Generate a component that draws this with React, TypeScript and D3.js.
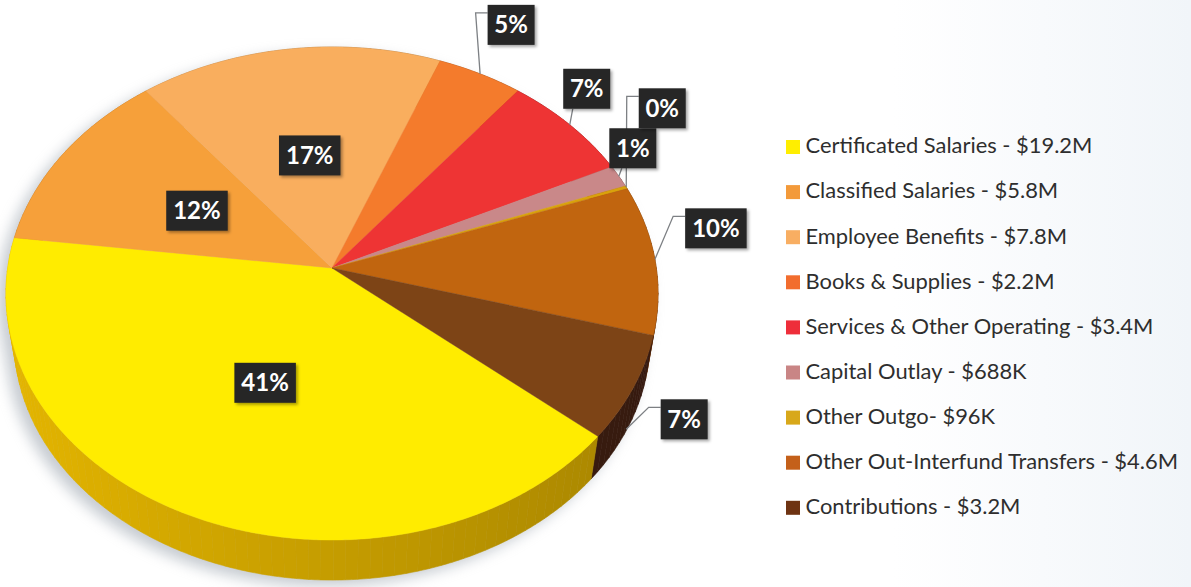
import React from "react";
import * as d3 from "d3";

// ---------- data ----------
const categories = [
  "Certificated Salaries",
  "Classified Salaries",
  "Employee Benefits",
  "Books & Supplies",
  "Services & Other Operating",
  "Capital Outlay",
  "Other Outgo",
  "Other Out-Interfund Transfers",
  "Contributions",
];
const amountsM = [19.2, 5.8, 7.8, 2.2, 3.4, 0.688, 0.096, 4.6, 3.2];
const amountLabels = ["$19.2M", "$5.8M", "$7.8M", "$2.2M", "$3.4M", "$688K", "$96K", "$4.6M", "$3.2M"];
const legendSeparators = [" - ", " - ", " - ", " - ", " - ", " - ", "- ", " - ", " - "];

// ---------- styles ----------
const topColors = ["#FFEC00", "#F6A03A", "#F9AE5E", "#F47B2C", "#EE3434", "#C98889", "#D9A20C", "#C1650F", "#7D4416"];
const sideColors = ["#E5B600", "#C47A22", "#C88C4A", "#C2601F", "#B82424", "#9C6868", "#A87C08", "#9A4E12", "#4A2414"];
const legendColors = ["#FFEE00", "#F39A3A", "#F8AE62", "#F26D2E", "#EE2E3A", "#C98585", "#D8A81A", "#C4601A", "#6E3312"];
// label layout: inside labels sit on the slice; others are offset from the rim anchor
const labelLayout: { inside?: boolean; dx?: number; dy?: number; wall?: boolean }[] = [
  { inside: true },
  { inside: true },
  { inside: true },
  { dx: 31, dy: -49 },
  { dx: 17, dy: -36 },
  { dx: 14, dy: -28 },
  { dx: 36, dy: -79 },
  { dx: 61, dy: -31 },
  { dx: 58, dy: -10, wall: true },
];

// ---------- geometry (projected 3D pie) ----------
const CX = 332;
const CY = 268;
const A = 324.3;
const B = 243.9;
const K = 0.1035;
const T = 0.025;
const YV = 2140;
const START = (130.1 * Math.PI) / 180;

function proj(theta: number, r: number, bottom = false): [number, number] {
  const X = r * Math.sin(theta);
  const Z = -r * Math.cos(theta);
  const w = 1 - K * Z;
  let x = CX + (A * X) / w;
  let y = CY + (B * Z) / w;
  if (bottom) {
    x += (CX - x) * T;
    y += (YV - y) * T;
  }
  return [x, y];
}

function arcPoints(a0: number, a1: number, bottom = false): [number, number][] {
  const n = Math.max(2, Math.ceil(((a1 - a0) * 180) / Math.PI / 0.5));
  const pts: [number, number][] = [];
  for (let i = 0; i <= n; i++) pts.push(proj(a0 + ((a1 - a0) * i) / n, 1, bottom));
  return pts;
}

const line = d3.line<[number, number]>();

export default function App() {
  const total = d3.sum(amountsM);
  const pctFmt = d3.format(".0%");
  const arcs = d3
    .pie<number>()
    .sort(null)
    .startAngle(START)
    .endAngle(START + 2 * Math.PI)(amountsM);

  // wall quads, painter-sorted back to front
  type Quad = { d: string; z: number; fill: string };
  const quads: Quad[] = [];
  const shadowQuads: string[] = [];
  arcs.forEach((a, i) => {
    const span = a.endAngle - a.startAngle;
    const n = Math.max(1, Math.ceil(((span * 180) / Math.PI) / 2));
    for (let j = 0; j < n; j++) {
      const t0 = a.startAngle + (span * j) / n;
      const t1 = a.startAngle + (span * (j + 1)) / n;
      const mid = (t0 + t1) / 2;
      const z = -Math.cos(mid);
      const top = arcPoints(t0, t1);
      const bot = arcPoints(t0, t1, true).reverse();
      const d = line([...top, ...bot])! + "Z";
      const m = 0.86 + 0.14 * -Math.sin(mid);
      const c = d3.rgb(sideColors[i]);
      const fill = d3.rgb(c.r * m, c.g * m, c.b * m).formatHex();
      quads.push({ d, z, fill });
      shadowQuads.push(d);
    }
  });
  quads.sort((p, q) => p.z - q.z);

  const topPaths = arcs.map((a) => {
    const pts = arcPoints(a.startAngle, a.endAngle);
    return line([[CX, CY], ...pts])! + "Z";
  });

  const fullTop = line(arcPoints(0, 2 * Math.PI))! + "Z";
  const fullBot = line(arcPoints(0, 2 * Math.PI, true))! + "Z";

  // labels
  const labels = arcs.map((a, i) => {
    const mid = (a.startAngle + a.endAngle) / 2;
    const txt = pctFmt(a.value / total);
    const w = 18 + 14.5 * txt.length;
    const h = 40;
    const L = labelLayout[i];
    if (L.inside) {
      const [x, y] = proj(mid, 0.49);
      return { txt, x, y, w, h, leader: null as string | null };
    }
    let anchor = proj(mid, 1);
    if (L.wall) {
      const b = proj(mid, 1, true);
      anchor = [anchor[0] + (b[0] - anchor[0]) * 0.95, anchor[1] + (b[1] - anchor[1]) * 0.95];
    }
    const x = anchor[0] + (L.dx || 0);
    const y = anchor[1] + (L.dy || 0);
    const l = x - w / 2;
    const r = x + w / 2;
    const t = y - h / 2;
    const bt = y + h / 2;
    let pts: [number, number][];
    if (anchor[0] >= l && anchor[0] <= r) {
      pts = [anchor, [anchor[0] + 3, bt]];
    } else {
      pts = [anchor, [l - 12, t + 8], [l, t + 8]];
    }
    return { txt, x, y, w, h, leader: line(pts) };
  });

  const legendX = 786;
  const legendY0 = 153.3;
  const legendStep = 45.1;

  return (
    <svg width={1191} height={587} style={{ position: "absolute", left: 0, top: 0, background: "#ffffff" }}>
      <defs>
        <filter id="pieShadow" x="-20%" y="-20%" width="140%" height="140%">
          <feGaussianBlur stdDeviation="7" />
        </filter>
        <filter id="boxShadow" x="-30%" y="-30%" width="160%" height="160%">
          <feDropShadow dx="2" dy="2" stdDeviation="1.6" floodColor="#000" floodOpacity="0.35" />
        </filter>
        <linearGradient id="bgGrad" x1="0" x2="1" y1="0" y2="0">
          <stop offset="0.75" stopColor="#ffffff" />
          <stop offset="1" stopColor="#f1f5f9" />
        </linearGradient>
      </defs>
      <rect x={0} y={0} width={1191} height={587} fill="url(#bgGrad)" />

      {/* soft shadow */}
      <g filter="url(#pieShadow)" transform="translate(-8,6)" fill="#8f99a4" opacity={0.5}>
        <path d={fullTop} />
        <path d={fullBot} />
        {shadowQuads.map((d, i) => (
          <path key={i} d={d} />
        ))}
      </g>

      {/* side walls */}
      <g>
        {quads.map((q, i) => (
          <path key={i} d={q.d} fill={q.fill} stroke={q.fill} strokeWidth={0.6} />
        ))}
      </g>

      {/* top face */}
      <g>
        {topPaths.map((d, i) => (
          <path key={i} d={d} fill={topColors[i]} stroke={topColors[i]} strokeWidth={0.4} />
        ))}
      </g>

      {/* leader lines */}
      <g fill="none" stroke="#7d8084" strokeWidth={1.3}>
        {labels.map((l, i) => (l.leader ? <path key={i} d={l.leader} /> : null))}
      </g>

      {/* label boxes */}
      <g>
        {labels.map((l, i) => (
          <g key={i}>
            <rect x={l.x - l.w / 2} y={l.y - l.h / 2} width={l.w} height={l.h} fill="#262626" filter="url(#boxShadow)" />
            <text
              x={l.x}
              y={l.y + 8.5}
              textAnchor="middle"
              fill="#ffffff"
              fontFamily="Lato, 'Open Sans', sans-serif"
              fontWeight={700}
              fontSize={24}
            >
              {l.txt}
            </text>
          </g>
        ))}
      </g>

      {/* legend */}
      <g>
        {categories.map((c, i) => {
          const y = legendY0 + i * legendStep;
          return (
            <g key={c}>
              <rect x={legendX} y={y - 13.3} width={14} height={14} fill={legendColors[i]} />
              <text
                x={legendX + 19.5}
                y={y}
                fill="#2e2e2e"
                fontFamily="Lato, 'Open Sans', sans-serif"
                fontSize={21.9}
              >
                {c + legendSeparators[i] + amountLabels[i]}
              </text>
            </g>
          );
        })}
      </g>
    </svg>
  );
}
